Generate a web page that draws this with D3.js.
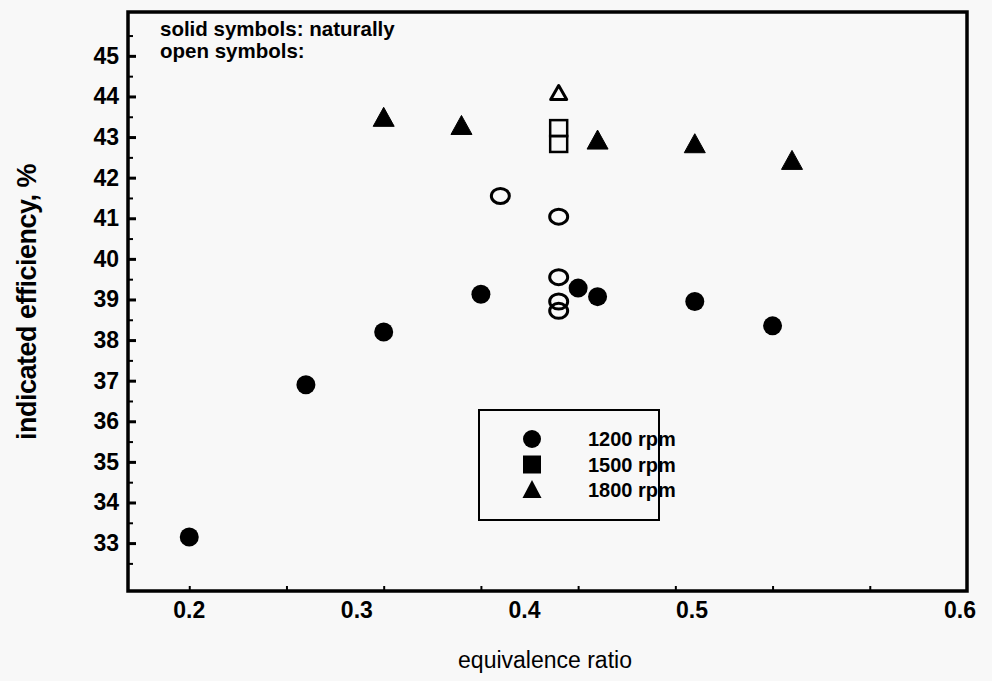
<!DOCTYPE html>
<html><head><meta charset="utf-8">
<script src="https://cdn.jsdelivr.net/npm/d3@7"></script>
<style>
html,body{margin:0;padding:0;background:#f8f8f8;}
svg{display:block;}
text{font-family:"Liberation Sans",Arial,sans-serif;fill:#000;}
.narrow{font-family:"Liberation Sans Narrow","Arial Narrow","Liberation Sans",sans-serif;}
</style></head>
<body>
<svg id="chart" width="992" height="681"></svg>
<script>
// ---- data ----
const solid1200X = [0.20, 0.26, 0.30, 0.35, 0.40, 0.41, 0.46, 0.50];
const solid1200Y = [33.15, 36.9, 38.2, 39.13, 39.28, 39.07, 38.95, 38.35];
const open1200X = [0.36, 0.39, 0.39, 0.39, 0.39];
const open1200Y = [41.55, 41.04, 39.55, 38.95, 38.72];
const open1500X = [0.39, 0.39];
const open1500Y = [43.22, 42.83];
const solid1800X = [0.30, 0.34, 0.41, 0.46, 0.51];
const solid1800Y = [43.42, 43.22, 42.86, 42.77, 42.36];
const open1800X = [0.39];
const open1800Y = [44.04];
const xTickLabels = ["0.2", "0.3", "0.4", "0.5", "0.6"];
const yTickLabels = [33, 34, 35, 36, 37, 38, 39, 40, 41, 42, 43, 44, 45];
const legendLabels = ["1200 rpm", "1500 rpm", "1800 rpm"];
const legendShapes = ["circle", "square", "triangle"];
const noteLines = ["solid symbols: naturally", "open symbols:"];
const xTitle = "equivalence ratio";
const yTitle = "indicated efficiency, %";

// ---- layout ----
const L = 128, R = 967, T = 12, B = 591;
const svg = d3.select("#chart");
const x = d3.scaleLinear().domain([0.1685, 0.6]).range([L, R]);
const y = d3.scaleLinear().domain([31.82, 46.08]).range([B, T]);
// tick labels in the original are placed unevenly; a piecewise scale reproduces it
const xLab = d3.scaleLinear().domain([0.2, 0.5, 0.6]).range([x(0.2), x(0.4586), x(0.5964)]);

const zip = (a, b) => a.map((v, i) => [v, b[i]]);

// y axis minor ticks
const yMinor = d3.range(32.5, 46, 0.5).filter(v => v % 1 !== 0);
svg.append("g").attr("transform", `translate(${L},0)`)
  .call(d3.axisLeft(y).tickValues(yMinor).tickSize(-5).tickFormat(""))
  .call(g => g.select(".domain").remove())
  .selectAll("line").attr("stroke-width", 2);
// y axis major ticks + labels
svg.append("g").attr("transform", `translate(${L},0)`)
  .call(d3.axisLeft(y).tickValues(yTickLabels).tickSize(-8).tickPadding(9).tickFormat(d3.format("d")))
  .call(g => g.select(".domain").remove())
  .call(g => g.selectAll("line").attr("stroke-width", 3))
  .call(g => g.selectAll("text").attr("class", "narrow").style("font-size", "23px").style("font-weight", "bold")
      .attr("fill", "#000").style("font-family", null));

// x axis ticks (inward)
svg.append("g").attr("transform", `translate(0,${B})`)
  .call(d3.axisBottom(x).tickValues(d3.range(0.2, 0.58, 0.05)).tickSize(-5).tickFormat(""))
  .call(g => g.select(".domain").remove())
  .selectAll("line").attr("stroke-width", 2);
// x tick labels
svg.append("g").selectAll("text").data(xTickLabels).join("text")
  .attr("class", "narrow")
  .attr("x", d => xLab(+d)).attr("y", 618)
  .attr("text-anchor", "middle")
  .style("font-size", "23px").style("font-weight", "bold")
  .text(d => d);

// frame
svg.append("rect").attr("x", L).attr("y", T).attr("width", R - L).attr("height", B - T)
  .attr("fill", "none").attr("stroke", "#000").attr("stroke-width", 3.5);

// titles
svg.append("text").attr("x", 545).attr("y", 668).attr("text-anchor", "middle")
  .style("font-size", "23px").text(xTitle);
svg.append("text").attr("transform", "translate(36,302) rotate(-90)").attr("text-anchor", "middle")
  .style("font-size", "27px").style("font-weight", "bold").style("letter-spacing", "-0.5px").text(yTitle);

// annotation
svg.append("g").selectAll("text").data(noteLines).join("text")
  .attr("x", 160).attr("y", (d, i) => 36 + i * 22)
  .style("font-size", "20.5px").style("font-weight", "bold")
  .text(d => d);

// symbol helpers
const triPath = (w, h) => `M0,${-h * 2 / 3}L${w / 2},${h / 3}L${-w / 2},${h / 3}Z`;

// solid circles 1200
svg.append("g").selectAll("circle").data(zip(solid1200X, solid1200Y)).join("circle")
  .attr("cx", d => x(d[0])).attr("cy", d => y(d[1])).attr("r", 9.5).attr("fill", "#000");
// open circles 1200
svg.append("g").selectAll("ellipse").data(zip(open1200X, open1200Y)).join("ellipse")
  .attr("cx", d => x(d[0])).attr("cy", d => y(d[1])).attr("rx", 9).attr("ry", 7.5)
  .attr("fill", "none").attr("stroke", "#000").attr("stroke-width", 3);
// open squares 1500
svg.append("g").selectAll("rect").data(zip(open1500X, open1500Y)).join("rect")
  .attr("x", d => x(d[0]) - 8.5).attr("y", d => y(d[1]) - 8).attr("width", 17).attr("height", 16)
  .attr("fill", "none").attr("stroke", "#000").attr("stroke-width", 2.5);
// solid triangles 1800
svg.append("g").selectAll("path").data(zip(solid1800X, solid1800Y)).join("path")
  .attr("transform", d => `translate(${x(d[0])},${y(d[1])})`)
  .attr("d", triPath(21, 19)).attr("fill", "#000").attr("stroke", "#000").attr("stroke-width", 1).attr("stroke-linejoin", "round");
// open triangle 1800
svg.append("g").selectAll("path").data(zip(open1800X, open1800Y)).join("path")
  .attr("transform", d => `translate(${x(d[0])},${y(d[1])})`)
  .attr("d", triPath(16, 14)).attr("fill", "none").attr("stroke", "#000").attr("stroke-width", 3).attr("stroke-linejoin", "round");

// legend
const lg = svg.append("g");
lg.append("rect").attr("x", 479).attr("y", 410).attr("width", 180).attr("height", 110)
  .attr("fill", "none").attr("stroke", "#000").attr("stroke-width", 2);
const ly = d3.scalePoint().domain(legendLabels).range([439, 490]);
const items = lg.selectAll("g.item").data(legendLabels).join("g").attr("class", "item")
  .attr("transform", d => `translate(532,${ly(d)})`);
items.each(function (d, i) {
  const g = d3.select(this);
  const s = legendShapes[i];
  if (s === "circle") g.append("circle").attr("r", 9).attr("fill", "#000");
  else if (s === "square") g.append("rect").attr("x", -9).attr("y", -9).attr("width", 18).attr("height", 18).attr("fill", "#000");
  else g.append("path").attr("d", triPath(19, 18)).attr("transform", "translate(0,2)").attr("fill", "#000");
});
items.append("text").attr("class", "narrow").attr("x", 56).attr("y", 7).style("font-size", "20px").style("font-weight", "bold")
  .text(d => d);
</script>
</body></html>
